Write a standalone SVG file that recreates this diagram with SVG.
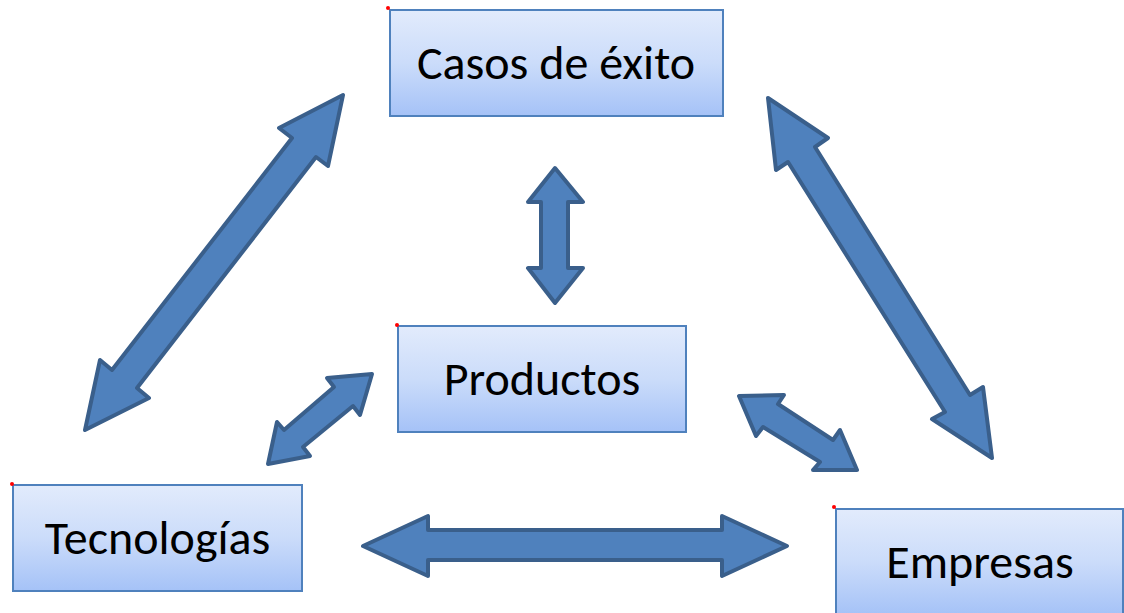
<svg xmlns="http://www.w3.org/2000/svg" width="1124" height="613" viewBox="0 0 1124 613">
<style>
.box{fill:url(#g);stroke:#4F81BD;stroke-width:2}
.lbl{font-family:Carlito,Calibri,Lato,"Liberation Sans",sans-serif;font-size:48px;fill:#000;text-anchor:middle}
.arr{fill:#4F81BD;stroke:#3A5F8B;stroke-width:4;stroke-linejoin:round}
.dot{fill:#FF0000}
</style>
<defs>
<linearGradient id="g" x1="0" y1="0" x2="0" y2="1">
<stop offset="0" stop-color="#E2EBFC"/>
<stop offset="0.5" stop-color="#CBDCFA"/>
<stop offset="1" stop-color="#A5C2F7"/>
</linearGradient>
</defs>
<rect width="1124" height="613" fill="#fff"/>
<g id="connectors">
<polygon class="arr" points="343,95 328,166 316,157 137,388 149,398 85,430 100,360 112,370 292,138 279,128"/>
<polygon class="arr" points="555,168 583,202 568,202 568,268 583,268 555,303 528,268 541,268 541,202 528,202"/>
<polygon class="arr" points="768,98 828,138 815,147 970,395 983,387 992,458 932,419 945,412 788,162 776,170"/>
<polygon class="arr" points="372,374 360,415 353,406 303,447 310,456 268,464 277,422 284,430 334,387 327,378"/>
<polygon class="arr" points="739,396 784,395 778,404 833,440 840,430 857,470 813,470 820,462 763,427 756,436"/>
<polygon class="arr" points="363,546 428,516 428,530 722,530 722,516 787,546 722,576 722,560 428,560 428,576"/>
</g>
<g id="casos">
<rect class="box" x="390" y="10" width="333" height="106"/>
<circle class="dot" cx="388" cy="8" r="2"/>
<text class="lbl" x="556" y="79">Casos de éxito</text>
</g>
<g id="productos">
<rect class="box" x="398" y="326" width="288" height="106"/>
<circle class="dot" cx="397" cy="325" r="2"/>
<text class="lbl" x="542" y="395">Productos</text>
</g>
<g id="tecnologias">
<rect class="box" x="13" y="485" width="289" height="106"/>
<circle class="dot" cx="12" cy="484" r="2"/>
<text class="lbl" x="157.5" y="554">Tecnologías</text>
</g>
<g id="empresas">
<rect class="box" x="836" y="509" width="287" height="106"/>
<circle class="dot" cx="834" cy="507" r="2"/>
<text class="lbl" x="980" y="578">Empresas</text>
</g>
</svg>
